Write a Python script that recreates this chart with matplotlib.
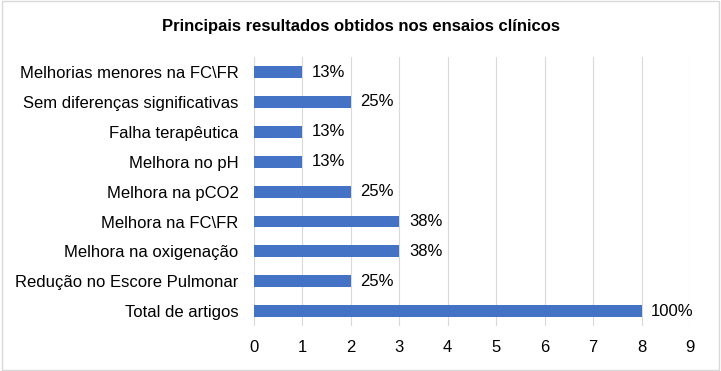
import matplotlib.pyplot as plt
from matplotlib.patches import Rectangle

plt.rcParams['font.family'] = ['Liberation Sans', 'DejaVu Sans']

categorias = ['Total de artigos', 'Redução no Escore Pulmonar', 'Melhora na oxigenação',
              'Melhora na FC\\FR', 'Melhora na pCO2', 'Melhora no pH',
              'Falha terapêutica', 'Sem diferenças significativas', 'Melhorias menores na FC\\FR']
valores = [8, 2, 3, 3, 2, 1, 1, 2, 1]
rotulos = ['100%', '25%', '38%', '38%', '25%', '13%', '13%', '25%', '13%']

fig = plt.figure(figsize=(7.21, 3.71), dpi=100)
ax = fig.add_axes([0.352, 0.121, 0.605, 0.725])

pos = range(len(categorias))
ax.barh(pos, valores, height=0.4, color='#4472C4', zorder=3)
for p, v, r in zip(pos, valores, rotulos):
    ax.text(v + 0.2, p, r, va='center', ha='left', fontsize=12, color='#000000')

ax.set_yticks(list(pos))
ax.set_yticklabels(categorias, fontsize=12)
ax.set_ylim(-0.5, len(categorias) - 0.5)
ax.set_xlim(0, 9)
ax.set_xticks(range(10))
ax.tick_params(axis='x', labelsize=12, length=0, pad=10)
ax.tick_params(axis='y', length=0, pad=11)
ax.grid(axis='x', color='#D9D9D9', linewidth=0.8, zorder=0)
for s in ax.spines.values():
    s.set_visible(False)

fig.suptitle('Principais resultados obtidos nos ensaios clínicos', fontsize=12,
             fontweight='bold', y=0.948)
fig.patches.append(Rectangle((0.003, 0.004), 0.994, 0.992, transform=fig.transFigure,
                             fill=False, edgecolor='#D9D9D9', linewidth=1))

fig.savefig('out.png', dpi=100)
